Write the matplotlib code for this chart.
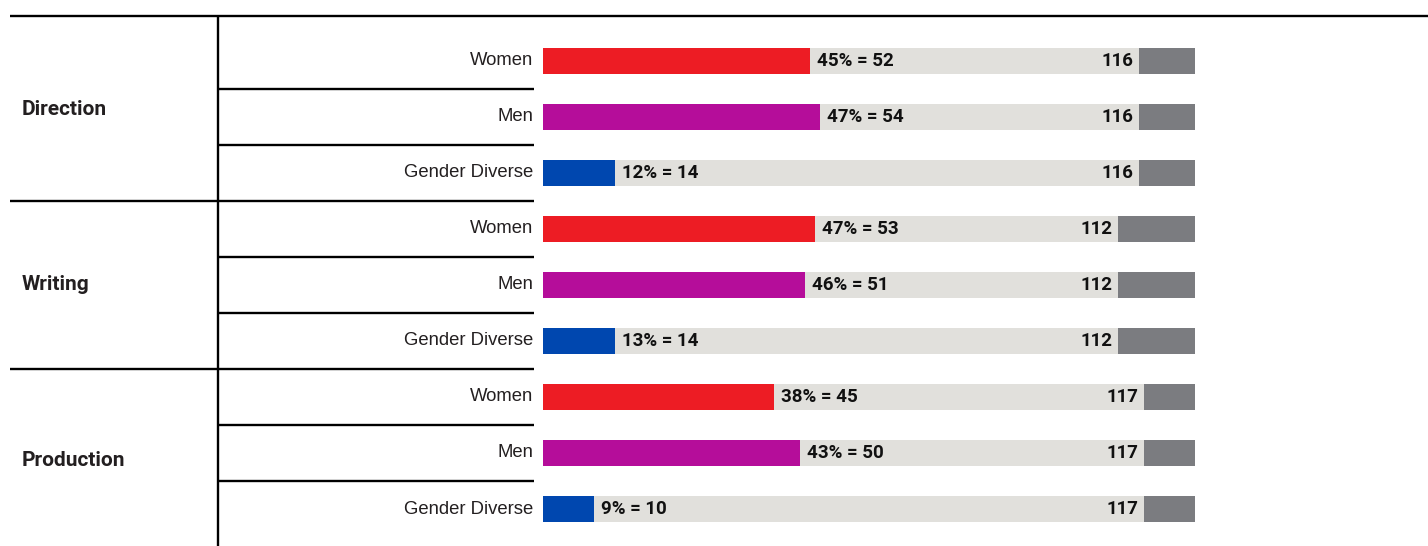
import matplotlib.pyplot as plt

# Survey counts by department and gender
groups = ["Direction", "Writing", "Production"]
genders = ["Women", "Men", "Gender Diverse"]
pct = [[45, 47, 12], [47, 46, 13], [38, 43, 9]]
counts = [[52, 54, 14], [53, 51, 14], [45, 50, 10]]
totals = [116, 112, 117]
scale_max = 127

gender_colors = ["#ED1C24", "#B50D9A", "#0047AF"]
light_grey = "#E1E0DC"
dark_grey = "#7B7C80"

W, H = 1428, 546
fig = plt.figure(figsize=(W / 100, H / 100), dpi=100)

# y runs in row units; row i is centred at pixel 61 + 56 * i
y_top = -61 / 56
y_bot = (H - 61) / 56

# frame axes for rules and labels, x in figure fraction
frame = fig.add_axes([0, 0, 1, 1])
frame.set_xlim(0, 1)
frame.set_ylim(y_bot, y_top)
frame.axis("off")

# bar axes spans the bar column
ax = fig.add_axes([543 / W, 0, 652 / W, 1])
ax.set_xlim(0, scale_max)
ax.set_ylim(y_bot, y_top)
ax.axis("off")

label_font = ["Liberation Sans", "DejaVu Sans"]
bold_font = ["Roboto", "Liberation Sans", "DejaVu Sans"]

lw = 1.7
x_left, x_mid, x_rows = 10 / W, 218 / W, 534 / W
frame.plot([x_left, 1], [-0.8, -0.8], color="black", lw=lw, solid_capstyle="butt")
frame.plot([x_mid, x_mid], [-0.8, y_bot], color="black", lw=lw, solid_capstyle="butt")

# group titles sit a little off the group centre
group_label_y = [0.86, 4.0, 7.14]

bar_h = 0.48
for g, group in enumerate(groups):
    base = g * 3
    frame.text(22 / W, group_label_y[g], group, ha="left", va="center",
               fontsize=15, fontweight="bold", family=bold_font, color="#231F20")
    if g > 0:
        frame.plot([x_left, x_rows], [base - 0.5, base - 0.5], color="black", lw=lw,
                   solid_capstyle="butt")
    for k, gender in enumerate(genders):
        y = base + k
        if k > 0:
            frame.plot([x_mid, x_rows], [y - 0.5, y - 0.5], color="black", lw=lw,
                       solid_capstyle="butt")
        frame.text(533 / W, y, gender, ha="right", va="center",
                   fontsize=13.3, family=label_font, color="#231F20")

        total = totals[g]
        n = counts[g][k]
        ax.barh(y, total, height=bar_h, color=light_grey, lw=0)
        ax.barh(y, scale_max - total, left=total, height=bar_h, color=dark_grey, lw=0)
        ax.barh(y, n, height=bar_h, color=gender_colors[k], lw=0)
        ax.annotate(f"{pct[g][k]}% = {n}", (n, y), xytext=(5, 0),
                    textcoords="offset points", ha="left", va="center",
                    fontsize=13.5, fontweight="bold", family=bold_font, color="#111111")
        ax.annotate(str(total), (total, y), xytext=(-4, 0),
                    textcoords="offset points", ha="right", va="center",
                    fontsize=13.5, fontweight="bold", family=bold_font, color="#111111")

fig.savefig("out.png", dpi=100)
